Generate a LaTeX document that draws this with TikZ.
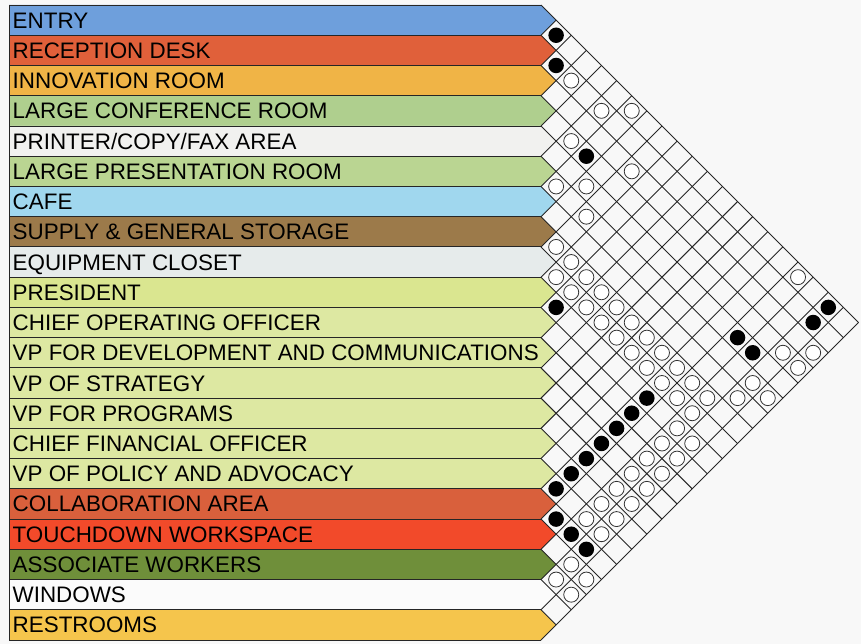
\documentclass[tikz,border=0pt]{standalone}
\usepackage{fontspec}
\setmainfont{Liberation Sans}
\definecolor{bgc}{HTML}{F8F8F8}
\definecolor{cEntry}{HTML}{6E9FDC}
\definecolor{cRecep}{HTML}{E0603A}
\definecolor{cInnov}{HTML}{F0B446}
\definecolor{cLCR}{HTML}{AFCF8E}
\definecolor{cPrint}{HTML}{F1F1EF}
\definecolor{cLPR}{HTML}{BAD592}
\definecolor{cCafe}{HTML}{A0D7EE}
\definecolor{cSupply}{HTML}{9C7A4A}
\definecolor{cEquip}{HTML}{E6EBEB}
\definecolor{cPres}{HTML}{DAE690}
\definecolor{cExec}{HTML}{DDE8A2}
\definecolor{cCollab}{HTML}{D9603C}
\definecolor{cTouch}{HTML}{F24A2A}
\definecolor{cAssoc}{HTML}{6F8F3A}
\definecolor{cWin}{HTML}{FBFBFB}
\definecolor{cRest}{HTML}{F5C54C}
\newcommand{\roombar}[4]{%
  \pgfmathsetmacro\yt{5+#1*30.24}%
  \pgfmathsetmacro\yc{\yt+15.12}%
  \pgfmathsetmacro\yb{\yt+30.24}%
  \fill[#2] (9,\yt) -- (541,\yt) -- (556.12,\yc) -- (541,\yb) -- (9,\yb) -- cycle;
  \node[lbl] (#3) at (12.5,\yc+8) {#4};
}
\begin{document}
\begin{tikzpicture}[x=1pt,y=-1pt,
  gridline/.style={line width=0.9pt, draw=black!85},
  lbl/.style={anchor=base west, inner sep=0pt, font=\fontsize{22.4}{26}\selectfont, text=black},
  opendot/.style={circle, draw=black!80, line width=0.8pt, fill=white, minimum size=15pt, inner sep=0pt},
  fulldot/.style={circle, fill=black, minimum size=15.5pt, inner sep=0pt}]
\useasboundingbox[fill=bgc] (0,0) rectangle (861,644);
% label bars
\roombar{0}{cEntry}{r0}{ENTRY}
\roombar{1}{cRecep}{r1}{RECEPTION DESK}
\roombar{2}{cInnov}{r2}{INNOVATION ROOM}
\roombar{3}{cLCR}{r3}{LARGE CONFERENCE ROOM}
\roombar{4}{cPrint}{r4}{PRINTER/COPY/FAX AREA}
\roombar{5}{cLPR}{r5}{LARGE PRESENTATION ROOM}
\roombar{6}{cCafe}{r6}{CAFE}
\roombar{7}{cSupply}{r7}{SUPPLY \& GENERAL STORAGE}
\roombar{8}{cEquip}{r8}{EQUIPMENT CLOSET}
\roombar{9}{cPres}{r9}{PRESIDENT}
\roombar{10}{cExec}{r10}{CHIEF OPERATING OFFICER}
\roombar{11}{cExec}{r11}{VP FOR DEVELOPMENT AND COMMUNICATIONS}
\roombar{12}{cExec}{r12}{VP OF STRATEGY}
\roombar{13}{cExec}{r13}{VP FOR PROGRAMS}
\roombar{14}{cExec}{r14}{CHIEF FINANCIAL OFFICER}
\roombar{15}{cExec}{r15}{VP OF POLICY AND ADVOCACY}
\roombar{16}{cCollab}{r16}{COLLABORATION AREA}
\roombar{17}{cTouch}{r17}{TOUCHDOWN WORKSPACE}
\roombar{18}{cAssoc}{r18}{ASSOCIATE WORKERS}
\roombar{19}{cWin}{r19}{WINDOWS}
\roombar{20}{cRest}{r20}{RESTROOMS}
% frame lines
\draw[gridline] (9,5) -- (9,640);
\foreach \k in {0,...,21}{
  \pgfmathsetmacro\yk{5+\k*30.24}
  \draw[gridline] (9,\yk) -- (541,\yk);
  \pgfmathsetmacro\dn{(640-\yk)/2}
  \pgfmathsetmacro\up{(\yk-5)/2}
  \draw[gridline] (541,\yk) -- ++(\dn,\dn);
  \draw[gridline] (541,\yk) -- ++(\up,-\up);
}
% adjacency marks
\foreach \i/\j in {1/3,1/5,0/6,3/5,2/8,5/6,4/7,5/8,
  7/8,7/9,7/10,7/11,7/12,7/13,7/14,7/15,7/16,7/17,7/18,
  8/9,8/10,8/11,8/12,8/13,8/14,8/15,8/16,8/17,8/18,
  9/18,9/19,10/18,10/19,11/18,11/19,12/18,12/19,13/18,13/19,14/18,14/19,15/18,15/19,
  17/19,17/20,18/19,18/20,0/17,3/19,2/20,3/20,5/19,5/20,6/19}{
  \node[opendot] (o-\i-\j) at ({541+(\j-\i)*15.12},{5+(\i+\j+1)*15.12}) {};
}
\foreach \i/\j in {0/1,1/2,3/6,9/10,9/16,10/16,11/16,12/16,13/16,14/16,15/16,
  16/17,16/18,16/19,4/17,4/18,0/19,1/19}{
  \node[fulldot] (b-\i-\j) at ({541+(\j-\i)*15.12},{5+(\i+\j+1)*15.12}) {};
}
\end{tikzpicture}
\end{document}
